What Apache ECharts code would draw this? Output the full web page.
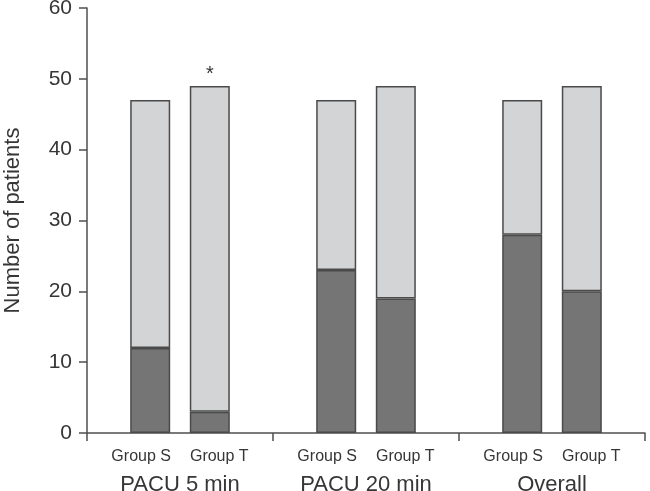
<!DOCTYPE html>
<html>
<head>
<meta charset="utf-8">
<script src="https://cdn.jsdelivr.net/npm/echarts@6/dist/echarts.min.js"></script>
<style>
html,body{margin:0;padding:0;background:#fff;}
#chart{width:650px;height:491px;}
</style>
</head>
<body>
<div id="chart"></div>
<script>
// Data
var categories = ['PACU 5 min', 'PACU 20 min', 'Overall'];
var groupNames = ['Group S', 'Group T'];
var groupSDark = [12, 23, 28];
var groupSTotal = [47, 47, 47];
var groupTDark = [3, 19, 20];
var groupTTotal = [49, 49, 49];
var significance = ['*', '', ''];   // marks over Group T bars
var yTicks = [0, 10, 20, 30, 40, 50, 60];

var groupSLight = groupSTotal.map(function (t, i) { return t - groupSDark[i]; });
var groupTLight = groupTTotal.map(function (t, i) { return t - groupTDark[i]; });

var FONT = 'Liberation Sans, Arial, Helvetica, sans-serif';
var DARK = '#757576';
var LIGHT = '#d3d4d6';
var EDGE = '#4a4a4a';
var AXIS = '#4f4f4f';
var TEXT = '#363636';

function barStyle(color) {
  return { color: color, borderColor: EDGE, borderWidth: 1.5 };
}

var chart = echarts.init(document.getElementById('chart'), null, { renderer: 'canvas' });
chart.setOption({
  animation: false,
  backgroundColor: '#ffffff',
  textStyle: { fontFamily: FONT },
  grid: { left: 87, right: 5, top: 8, bottom: 58, containLabel: false, outerBoundsMode: 'none' },
  xAxis: {
    type: 'category',
    data: categories,
    boundaryGap: true,
    axisLine: { lineStyle: { color: AXIS, width: 1.5 } },
    axisTick: { show: true, alignWithLabel: false, length: 8, lineStyle: { color: AXIS, width: 1.5 } },
    axisLabel: {
      margin: 13,
      interval: 0,
      color: TEXT,
      fontFamily: FONT,
      formatter: function (v) {
        return '{g|' + groupNames[0] + '}{sp|}{g|' + groupNames[1] + '}\n{c|' + v + '}';
      },
      rich: {
        g: { fontSize: 16, lineHeight: 22, color: TEXT, fontFamily: FONT },
        sp: { width: 19, fontSize: 16, lineHeight: 22 },
        c: { fontSize: 22, lineHeight: 33, color: TEXT, fontFamily: FONT }
      }
    }
  },
  yAxis: {
    type: 'value',
    min: yTicks[0],
    max: yTicks[yTicks.length - 1],
    interval: yTicks[1] - yTicks[0],
    name: 'Number of patients',
    nameLocation: 'middle',
    nameRotate: 90,
    nameGap: 63,
    nameTextStyle: { fontSize: 22, color: TEXT, fontFamily: FONT },
    axisLine: { show: true, lineStyle: { color: AXIS, width: 1.5 } },
    axisTick: { show: true, length: 8, lineStyle: { color: AXIS, width: 1.5 } },
    axisLabel: { fontSize: 21, color: TEXT, margin: 15, fontFamily: FONT },
    splitLine: { show: false }
  },
  series: [
    {
      name: 'Group S low', type: 'bar', stack: 'S', data: groupSDark,
      barWidth: 40, barGap: '49%', itemStyle: barStyle(DARK)
    },
    {
      name: 'Group S high', type: 'bar', stack: 'S', data: groupSLight,
      barWidth: 40, barGap: '49%', itemStyle: barStyle(LIGHT)
    },
    {
      name: 'Group T low', type: 'bar', stack: 'T', data: groupTDark,
      barWidth: 40, barGap: '49%', itemStyle: barStyle(DARK)
    },
    {
      name: 'Group T high', type: 'bar', stack: 'T', data: groupTLight,
      barWidth: 40, barGap: '49%', itemStyle: barStyle(LIGHT),
      label: {
        show: true, position: 'top', distance: 1,
        fontSize: 20, color: TEXT, fontFamily: FONT,
        formatter: function (p) { return significance[p.dataIndex]; }
      }
    }
  ]
});
</script>
</body>
</html>
